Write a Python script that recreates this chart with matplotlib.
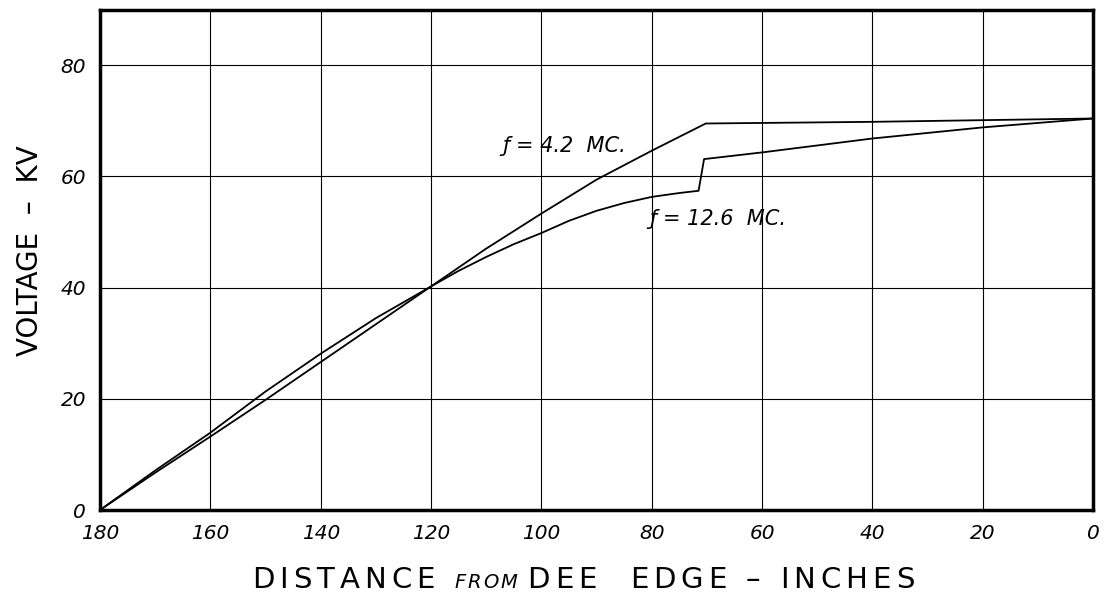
import matplotlib
matplotlib.use("Agg")
import matplotlib.pyplot as plt
import numpy as np

# distance from dee edge (inches) and voltage (kV)
dist_42 = [180, 170, 160, 150, 140, 130, 120, 110, 100, 90, 80, 75, 70.2, 40, 0]
volt_42 = [0, 6.7, 13.2, 19.8, 26.6, 33.4, 40.2, 47.0, 53.3, 59.4, 64.6, 67.1, 69.5, 69.8, 70.4]

dist_126 = [180, 170, 160, 150, 140, 130, 120, 115, 110, 105, 100, 95, 90, 85, 80, 75, 71.5,
            70.5, 60, 40, 20, 0]
volt_126 = [0, 7.1, 13.9, 21.3, 28.1, 34.5, 40.2, 43.0, 45.5, 47.8, 49.8, 52.0, 53.8, 55.2, 56.3,
            57.0, 57.4, 63.1, 64.3, 66.8, 68.8, 70.4]

x_ticks = [180, 160, 140, 120, 100, 80, 60, 40, 20, 0]
y_ticks = [0, 20, 40, 60, 80]

label_42 = "ƒ = 4.2  MC."
label_126 = "ƒ = 12.6  MC."

W, H = 1105, 605
fig = plt.figure(figsize=(W/100, H/100), dpi=100)
ax = fig.add_axes([100/W, 95/H, 993/W, 500.5/H])

ax.plot(dist_42, volt_42, color='black', lw=1.3)
ax.plot(dist_126, volt_126, color='black', lw=1.3)

ax.set_xlim(180, 0)
ax.set_ylim(0, 90)
ax.set_xticks(x_ticks)
ax.set_yticks(y_ticks)
ax.set_xticklabels([str(t) for t in x_ticks], fontsize=14.5, fontstyle='oblique')
ax.set_yticklabels([str(t) for t in y_ticks], fontsize=14.5, fontstyle='oblique')
ax.tick_params(length=0, pad=10)
ax.tick_params(axis='y', pad=10)
ax.grid(True, color='black', lw=0.8)
for s in ax.spines.values():
    s.set_linewidth(2.5)

ax.text(107.1, 65.4, label_42, fontsize=15, fontstyle='oblique', va='center', ha='left')
ax.text(80.5, 52.3, label_126, fontsize=15, fontstyle='oblique', va='center', ha='left')

fig.text(30/W, 1 - 251/H, "VOLTAGE  –  KV", rotation=90, fontsize=20,
         ha='center', va='center')

r = fig.canvas.get_renderer()


def tracked(x_px, y_px, s, track, **kw):
    # letter by letter so the wide lettering spacing can be copied
    for ch in s:
        t = fig.text(x_px/W, 1 - y_px/H, ch, ha='left', va='baseline', **kw)
        x_px = t.get_window_extent(r).x1 + track
    return x_px


# x label, "FROM" is smaller and slanted
x = tracked(252, 588, "DISTANCE ", 5, fontsize=21)
x = tracked(x, 588, "FROM ", 2, fontsize=14, fontstyle='oblique')
tracked(x, 588, "DEE  EDGE – INCHES", 5, fontsize=21)

fig.savefig("out.png", dpi=100)
